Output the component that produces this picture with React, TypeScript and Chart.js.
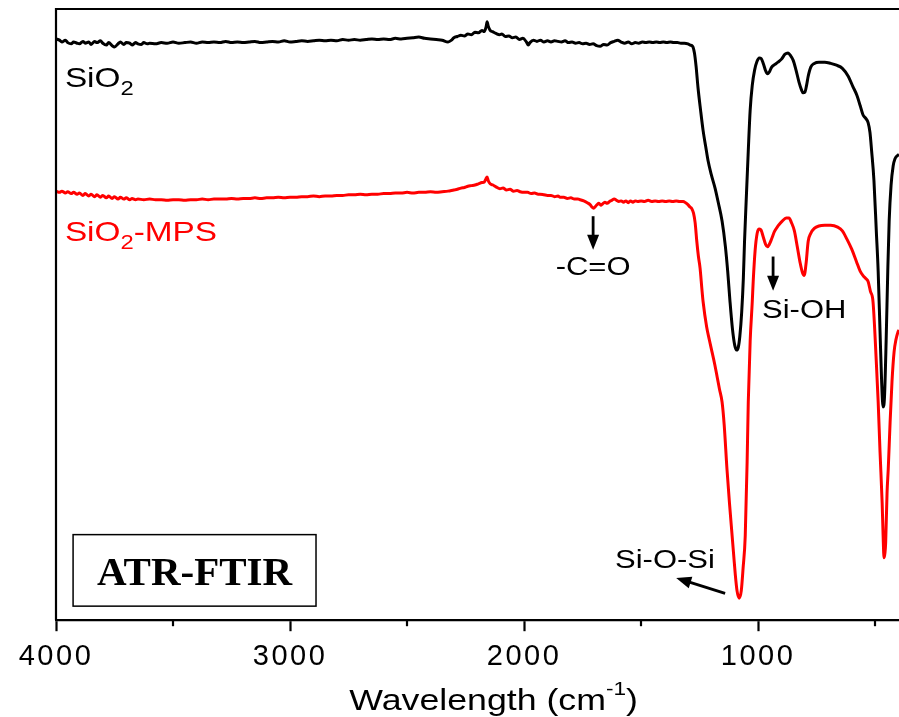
import React, { useEffect, useRef } from 'react';
import { Chart, registerables } from 'chart.js';

Chart.register(...registerables);

// Wavenumber (cm-1) vs transmittance (arbitrary units, offset traces)
const SIO2: [number, number][] = [
  [4000,95.1],[3985,94.9],[3975,94.6],[3960,94.9],[3950,94.5],[3935,94.3],[3925,94.6],[3910,94.4],[3900,94.3],[3885,94.7],
  [3875,94.4],[3860,94.6],[3850,94.2],[3835,94.7],[3825,94.5],[3810,94.8],[3800,94.4],[3785,94.1],[3775,94.5],[3760,94.0],
  [3750,93.8],[3735,94.3],[3725,94.6],[3710,94.2],[3700,94.5],[3685,94.4],[3675,94.1],[3660,94.5],[3650,94.3],[3635,94.2],
  [3625,94.5],[3610,94.3],[3600,94.4],[3575,94.3],[3550,94.5],[3525,94.4],[3500,94.6],[3475,94.4],[3450,94.5],[3425,94.6],
  [3400,94.4],[3375,94.6],[3350,94.5],[3325,94.6],[3300,94.5],[3275,94.7],[3250,94.5],[3225,94.6],[3200,94.5],[3175,94.6],
  [3150,94.7],[3125,94.5],[3100,94.6],[3075,94.7],[3050,94.6],[3025,94.8],[3000,94.6],[2975,94.7],[2950,94.8],[2925,94.7],
  [2900,94.8],[2875,94.9],[2850,94.8],[2825,94.9],[2800,94.8],[2775,95.0],[2750,94.9],[2725,95.0],[2700,94.9],[2675,95.0],
  [2650,95.1],[2625,95.0],[2600,95.1],[2575,95.0],[2550,95.2],[2525,95.1],[2500,95.2],[2475,95.3],[2450,95.4],[2425,95.2],
  [2400,95.1],[2375,95.0],[2350,94.9],[2325,94.6],[2310,94.9],[2300,95.3],[2285,95.5],[2270,95.7],[2255,95.6],[2240,95.9],
  [2225,95.8],[2210,96.2],[2195,96.1],[2180,96.5],[2170,96.3],[2162,97.1],[2158,97.9],[2153,97.2],[2145,96.5],[2135,96.3],
  [2120,96.0],[2105,95.8],[2095,95.9],[2080,95.5],[2065,95.6],[2050,95.3],[2035,95.4],[2020,95.0],[2005,95.2],[1990,94.6],
  [1982,94.1],[1975,94.5],[1960,94.9],[1945,94.7],[1930,94.9],[1915,94.6],[1900,94.8],[1885,94.6],[1870,94.8],[1855,94.7],
  [1840,94.6],[1825,94.8],[1810,94.5],[1795,94.6],[1780,94.4],[1765,94.5],[1750,94.3],[1735,94.4],[1720,94.2],[1705,94.3],
  [1690,94.0],[1675,93.9],[1660,94.2],[1645,94.1],[1630,94.5],[1615,94.7],[1600,94.9],[1585,94.6],[1570,94.4],[1555,94.6],
  [1540,94.3],[1525,94.5],[1510,94.4],[1495,94.6],[1480,94.5],[1465,94.6],[1450,94.5],[1435,94.6],[1420,94.5],[1405,94.6],
  [1390,94.5],[1375,94.6],[1360,94.5],[1345,94.5],[1330,94.4],[1315,94.4],[1300,94.3],[1290,94.1],[1280,93.9],[1272,92.8],
  [1265,90.6],[1257,87.2],[1246,83.5],[1235,80.1],[1224,77.5],[1214,75.2],[1200,72.9],[1184,70.7],[1170,68.3],[1154,65.3],
  [1140,61.2],[1130,57.1],[1120,52.1],[1110,47.8],[1100,45.0],[1092,44.2],[1085,44.6],[1078,46.5],[1070,50.5],
  [1063,56.0],[1058,62.0],[1051,68.6],[1042,76.8],[1034,83.4],[1025,87.5],[1015,90.0],[1005,91.4],[995,92.0],[987,91.9],
  [978,91.1],[968,89.9],[960,89.4],[952,89.7],[942,90.5],[930,90.9],[915,91.3],[900,91.8],[885,92.6],[872,92.8],
  [862,92.4],[850,91.6],[838,90.0],[825,88.0],[815,86.8],[808,86.3],[800,86.4],[793,87.5],[786,89.0],[775,90.5],
  [760,91.1],[740,91.3],[715,91.3],[690,91.1],[665,90.8],[640,90.3],[615,89.0],[595,87.3],[578,85.9],[564,84.2],
  [552,82.7],[540,82.1],[530,81.4],[522,79.8],[515,76.8],[505,71.9],[495,63.7],[487,57.1],[479,47.2],[472,38.8],
  [466,34.9],[460,36.5],[453,45.6],[446,57.1],[440,65.3],[432,71.1],[423,74.3],[415,75.5],[405,76.0],[398,76.2],
];

const SIO2_MPS: [number, number][] = [
  [4000,70.2],[3985,70.0],[3975,70.2],[3960,69.9],[3950,70.1],[3935,69.8],[3925,70.0],[3910,69.7],[3900,69.9],[3885,69.5],
  [3875,69.8],[3860,69.4],[3850,69.7],[3835,69.3],[3825,69.6],[3810,69.2],[3800,69.5],[3785,69.1],[3775,69.4],[3760,69.0],
  [3750,69.3],[3735,68.9],[3725,69.2],[3710,68.9],[3700,69.1],[3685,68.8],[3675,69.0],[3660,68.8],[3650,68.9],[3625,68.8],
  [3600,68.9],[3575,68.8],[3550,68.8],[3525,68.7],[3500,68.8],[3475,68.8],[3450,68.7],[3425,68.8],[3400,68.8],[3375,68.9],
  [3350,68.8],[3325,68.9],[3300,68.9],[3275,68.9],[3250,69.0],[3225,68.9],[3200,69.0],[3175,69.0],[3150,69.1],[3125,69.0],
  [3100,69.1],[3075,69.1],[3050,69.2],[3025,69.1],[3000,69.2],[2975,69.2],[2950,69.3],[2925,69.3],[2900,69.4],[2875,69.3],
  [2850,69.4],[2825,69.4],[2800,69.5],[2775,69.5],[2750,69.6],[2725,69.6],[2700,69.7],[2675,69.6],[2650,69.7],[2625,69.7],
  [2600,69.8],[2575,69.8],[2550,69.9],[2525,69.9],[2500,70.0],[2475,69.9],[2450,70.0],[2425,70.0],[2400,70.1],[2375,70.0],
  [2350,70.1],[2325,70.2],[2300,70.4],[2285,70.5],[2270,70.7],[2255,70.8],[2240,71.0],[2225,71.1],[2210,71.2],[2195,71.4],
  [2180,71.6],[2170,71.7],[2163,72.2],[2158,72.5],[2153,71.9],[2145,71.4],[2133,71.2],[2120,70.9],[2103,70.6],[2090,70.7],
  [2075,70.4],[2060,70.5],[2045,70.2],[2030,70.3],[2017,70.1],[2000,70.0],[1985,70.0],[1970,69.8],[1955,69.9],[1940,69.7],
  [1932,69.7],[1915,69.6],[1900,69.5],[1885,69.5],[1870,69.3],[1855,69.4],[1846,69.2],[1830,69.2],[1815,69.0],[1800,69.1],
  [1785,68.9],[1770,68.9],[1761,68.8],[1745,68.6],[1730,68.3],[1718,68.0],[1710,67.6],[1703,67.4],[1695,67.7],[1688,68.0],
  [1680,68.2],[1672,67.9],[1665,68.1],[1655,68.4],[1645,68.2],[1635,68.5],[1625,68.7],[1615,68.9],[1605,68.7],[1595,68.5],
  [1585,68.6],[1575,68.4],[1565,68.6],[1555,68.3],[1545,68.6],[1535,68.4],[1525,68.6],[1515,68.5],[1500,68.6],[1485,68.5],
  [1470,68.7],[1455,68.5],[1440,68.6],[1425,68.5],[1410,68.6],[1395,68.5],[1380,68.6],[1365,68.5],[1350,68.6],[1335,68.5],
  [1320,68.5],[1310,68.3],[1300,68.0],[1291,67.6],[1283,67.3],[1276,66.6],[1269,65.0],[1262,62.0],[1255,59.5],[1248,57.6],
  [1240,54.1],[1235,52.1],[1220,48.0],[1208,45.8],[1197,43.9],[1185,41.8],[1175,39.8],[1165,37.8],[1154,35.7],[1145,32.0],
  [1133,24.7],[1122,19.0],[1111,13.8],[1104,10.5],[1098,7.7],[1090,4.8],[1081,3.6],[1072,4.8],[1064,8.6],[1055,13.8],
  [1047,25.8],[1042,35.7],[1034,45.6],[1025,52.1],[1021,55.4],[1013,60.4],[1004,63.3],[995,64.0],[987,63.8],[978,62.7],
  [968,61.5],[960,61.1],[952,61.5],[942,62.4],[930,63.6],[915,64.5],[897,65.3],[880,65.8],[868,65.8],[858,65.1],
  [845,63.7],[833,61.2],[820,58.4],[810,56.8],[803,56.4],[795,58.4],[786,62.0],[775,63.3],[760,64.1],[740,64.5],
  [715,64.6],[690,64.6],[660,64.3],[640,63.7],[620,62.3],[600,60.7],[580,58.7],[564,57.1],[550,56.3],[540,55.9],
  [530,55.4],[520,53.8],[509,52.1],[495,42.3],[487,35.7],[479,27.5],[470,19.2],[466,14.0],[462,10.2],[458,11.0],
  [455,12.7],[449,20.9],[444,24.7],[436,32.4],[428,39.0],[419,43.9],[411,45.9],[402,47.2],[398,47.5],
];

const X_MIN = 398;
const X_MAX = 4000;
const X_TICKS = [500, 1000, 1500, 2000, 2500, 3000, 3500, 4000];
const X_TICK_LABELS = [4000, 3000, 2000, 1000];
const X_MINOR_TICKS = [3500, 2500, 1500, 500];
const X_TITLE = ['Wavelength (cm', '-1', ')'];
const BOX_TITLE = 'ATR-FTIR';

const SANS = '"Liberation Sans", Arial, sans-serif';
const SERIF = '"Liberation Serif", "Times New Roman", serif';
const SX = 1.19;

type Part = { t: string; size: number; dy?: number };

function drawParts(ctx: CanvasRenderingContext2D, parts: Part[], x: number, y: number, align: 'left' | 'center', color: string) {
  ctx.save();
  ctx.fillStyle = color;
  ctx.textBaseline = 'alphabetic';
  ctx.textAlign = 'left';
  const widths = parts.map((p) => {
    ctx.font = `${p.size}px ${SANS}`;
    return ctx.measureText(p.t).width * SX;
  });
  const total = widths.reduce((a, b) => a + b, 0);
  let cx = align === 'center' ? x - total / 2 : x;
  parts.forEach((p, i) => {
    ctx.font = `${p.size}px ${SANS}`;
    ctx.save();
    ctx.translate(cx, y + (p.dy || 0));
    ctx.scale(SX, 1);
    ctx.fillText(p.t, 0, 0);
    ctx.restore();
    cx += widths[i];
  });
  ctx.restore();
}

function arrow(ctx: CanvasRenderingContext2D, x1: number, y1: number, x2: number, y2: number) {
  const head = 15;
  const hw = 6;
  const dx = x2 - x1;
  const dy = y2 - y1;
  const len = Math.hypot(dx, dy);
  const ux = dx / len;
  const uy = dy / len;
  const bx = x2 - ux * head;
  const by = y2 - uy * head;
  ctx.save();
  ctx.strokeStyle = '#000';
  ctx.fillStyle = '#000';
  ctx.lineWidth = 2.8;
  ctx.beginPath();
  ctx.moveTo(x1, y1);
  ctx.lineTo(bx + ux * 2, by + uy * 2);
  ctx.stroke();
  ctx.beginPath();
  ctx.moveTo(x2, y2);
  ctx.lineTo(bx - uy * hw, by + ux * hw);
  ctx.lineTo(bx + uy * hw, by - ux * hw);
  ctx.closePath();
  ctx.fill();
  ctx.restore();
}

// annotation anchors in data units (wavenumber, a.u.)
const NOTES = {
  sio2: { x: 3962, y: 87.3 },
  sio2mps: { x: 3962, y: 62.0 },
  co: { x: 1705, y: 56.4, a1: 66.1, a2: 60.6 },
  sioh: { x: 983, y: 49.5, ax: 936, a1: 59.5, a2: 53.9 },
  siosi: { x: 1611, y: 8.6, ax1: 1141, ay1: 4.4, ax2: 1350, ay2: 6.9 },
  box: { x1: 3927, x2: 2889, y1: 14.0, y2: 2.3, ty: 5.8 },
  titleX: 2130,
};

const decorPlugin = {
  id: 'decor',
  beforeDraw(chart: any) {
    (chart.ctx as any).letterSpacing = '2.5px';
  },
  beforeDatasetsDraw(chart: any) {
    (chart.ctx as any).letterSpacing = '0px';
  },
  afterDraw(chart: any) {
    const ctx: CanvasRenderingContext2D = chart.ctx;
    const { left, right, top, bottom } = chart.chartArea;
    const xs = chart.scales.x;
    const ys = chart.scales.y;
    const X = (v: number) => xs.getPixelForValue(v);
    const Y = (v: number) => ys.getPixelForValue(v);
    ctx.save();
    (ctx as any).letterSpacing = '0px';
    ctx.strokeStyle = '#000';
    ctx.lineWidth = 2.2;
    ctx.beginPath();
    ctx.moveTo(left, bottom);
    ctx.lineTo(left, top);
    ctx.lineTo(right + 2, top);
    ctx.stroke();
    X_MINOR_TICKS.forEach((v) => {
      const px = Math.round(X(v));
      ctx.beginPath();
      ctx.moveTo(px, bottom);
      ctx.lineTo(px, bottom + 6);
      ctx.stroke();
    });
    drawParts(ctx, [
      { t: X_TITLE[0], size: 30 },
      { t: X_TITLE[1], size: 19, dy: -15 },
      { t: X_TITLE[2], size: 30 },
    ], X(NOTES.titleX), bottom + 90, 'center', '#000');
    drawParts(ctx, [
      { t: 'SiO', size: 28 },
      { t: '2', size: 20, dy: 8 },
    ], X(NOTES.sio2.x), Y(NOTES.sio2.y), 'left', '#000');
    drawParts(ctx, [
      { t: 'SiO', size: 28 },
      { t: '2', size: 20, dy: 8 },
      { t: '-MPS', size: 28 },
    ], X(NOTES.sio2mps.x), Y(NOTES.sio2mps.y), 'left', '#ff0000');
    drawParts(ctx, [{ t: '-C=O', size: 26 }], X(NOTES.co.x), Y(NOTES.co.y), 'center', '#000');
    arrow(ctx, X(NOTES.co.x), Y(NOTES.co.a1), X(NOTES.co.x), Y(NOTES.co.a2));
    drawParts(ctx, [{ t: 'Si-OH', size: 26 }], X(NOTES.sioh.x), Y(NOTES.sioh.y), 'left', '#000');
    arrow(ctx, X(NOTES.sioh.ax), Y(NOTES.sioh.a1), X(NOTES.sioh.ax), Y(NOTES.sioh.a2));
    drawParts(ctx, [{ t: 'Si-O-Si', size: 26 }], X(NOTES.siosi.x), Y(NOTES.siosi.y), 'left', '#000');
    arrow(ctx, X(NOTES.siosi.ax1), Y(NOTES.siosi.ay1), X(NOTES.siosi.ax2), Y(NOTES.siosi.ay2));
    const bx1 = X(NOTES.box.x1);
    const bx2 = X(NOTES.box.x2);
    const by1 = Y(NOTES.box.y1);
    const by2 = Y(NOTES.box.y2);
    ctx.lineWidth = 1.5;
    ctx.strokeRect(bx1, by1, bx2 - bx1, by2 - by1);
    ctx.fillStyle = '#000';
    ctx.font = `bold 41px ${SERIF}`;
    ctx.textAlign = 'center';
    ctx.textBaseline = 'alphabetic';
    ctx.fillText(BOX_TITLE, (bx1 + bx2) / 2, Y(NOTES.box.ty));
    ctx.restore();
  },
};

export default function App() {
  const ref = useRef<HTMLCanvasElement | null>(null);
  useEffect(() => {
    document.body.style.margin = '0';
    const canvas = ref.current!;
    const chart = new Chart(canvas, {
      type: 'line',
      data: {
        datasets: [
          {
            label: 'SiO2',
            data: SIO2.map(([x, y]) => ({ x, y })),
            borderColor: '#000000',
            borderWidth: 3,
            pointRadius: 0,
            cubicInterpolationMode: 'monotone',
            fill: false,
          },
          {
            label: 'SiO2-MPS',
            data: SIO2_MPS.map(([x, y]) => ({ x, y })),
            borderColor: '#ff0000',
            borderWidth: 3,
            pointRadius: 0,
            cubicInterpolationMode: 'monotone',
            fill: false,
          },
        ],
      },
      options: {
        animation: false,
        responsive: true,
        maintainAspectRatio: false,
        layout: { padding: { left: 56, top: 9, right: 0, bottom: 35 } },
        plugins: { legend: { display: false }, tooltip: { enabled: false } },
        scales: {
          x: {
            type: 'linear',
            reverse: true,
            min: X_MIN,
            max: X_MAX,
            afterBuildTicks: (scale: any) => {
              scale.ticks = X_TICKS.map((value) => ({ value }));
            },
            ticks: {
              autoSkip: false,
              maxRotation: 0,
              minRotation: 0,
              padding: 8,
              color: '#000',
              font: { family: SANS, size: 29 },
              callback: (v: any) => (X_TICK_LABELS.includes(Number(v)) ? String(v) : ''),
            },
            grid: {
              display: true,
              drawOnChartArea: false,
              drawTicks: true,
              tickLength: 11,
              tickWidth: 2.2,
              tickColor: (c: any) => (c.tick && X_TICK_LABELS.includes(c.tick.value) ? '#000' : 'rgba(0,0,0,0)'),
            },
            border: { display: true, color: '#000', width: 2.2 },
          },
          y: { display: false, min: 0, max: 100 },
        },
      },
      plugins: [decorPlugin],
    } as any);
    return () => chart.destroy();
  }, []);
  return (
    <div style={{ position: 'relative', width: 899, height: 717 }}>
      <canvas ref={ref} style={{ display: 'block' }} />
    </div>
  );
}
